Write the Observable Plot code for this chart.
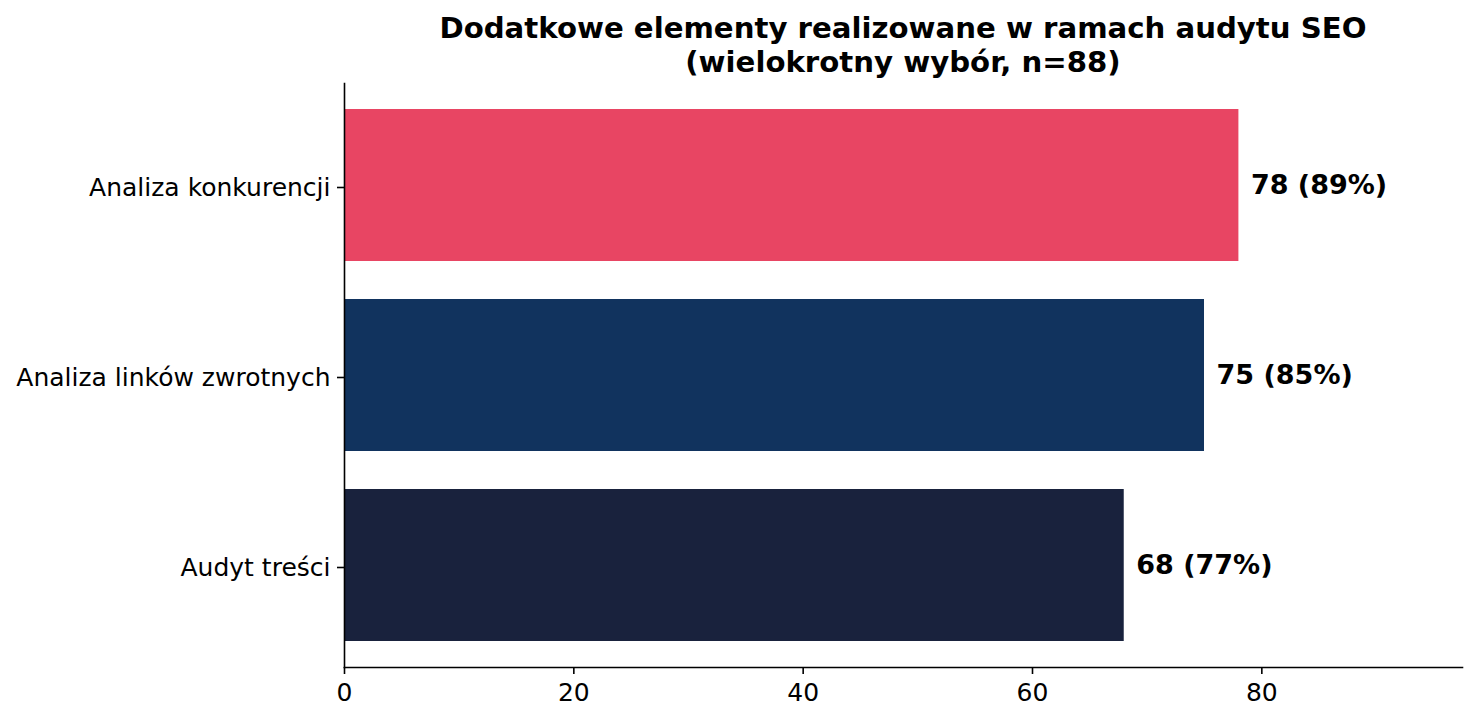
<!DOCTYPE html>
<html>
<head>
<meta charset="utf-8">
<script src="https://cdn.jsdelivr.net/npm/d3@7"></script>
<script src="https://cdn.jsdelivr.net/npm/@observablehq/plot@0.6"></script>
<style>
  html, body { margin: 0; padding: 0; background: #fff; }
  #title {
    box-sizing: border-box;
    width: 1477px;
    padding: 11px 15px 0 344px;
    height: 79px;
    font-family: "DejaVu Sans", sans-serif;
    font-weight: bold;
    font-size: 29.2px;
    line-height: 34px;
    text-align: center;
    color: #000;
  }
</style>
</head>
<body>
<div id="title">Dodatkowe elementy realizowane w ramach audytu SEO<br>(wielokrotny wybór, n=88)</div>
<div id="chart"></div>
<script>
const categories = ["Analiza konkurencji", "Analiza linków zwrotnych", "Audyt treści"];
const counts = [78, 75, 68];
const percents = [89, 85, 77];
const barColors = ["#E84563", "#11335E", "#19223D"];
const xTicks = [0, 20, 40, 60, 80];

const data = categories.map((c, i) => ({label: c, value: counts[i], pct: percents[i], color: barColors[i]}));

const chart = Plot.plot({
  width: 1477,
  height: 642,
  marginTop: 4,
  marginBottom: 54,
  marginLeft: 344,
  marginRight: 15,
  style: {fontFamily: "DejaVu Sans, sans-serif", color: "#000", background: "#fff"},
  x: {domain: [0, 97.5], ticks: xTicks, label: null},
  y: {domain: categories, paddingInner: 0.2, paddingOuter: 0.1368, label: null},
  marks: [
    Plot.barX(data, {x: "value", y: "label", fill: "color"}),
    Plot.text(data, {
      x: "value", y: "label",
      text: d => `${d.value} (${d.pct}%)`,
      textAnchor: "start", dx: 12,
      fontWeight: "bold", fontSize: 27, fill: "#000"
    }),
    Plot.frame({anchor: "left", stroke: "#000", strokeWidth: 1.6}),
    Plot.frame({anchor: "bottom", stroke: "#000", strokeWidth: 1.6}),
    Plot.axisX({ticks: xTicks, tickSize: 7, tickPadding: 9, fontSize: 25, label: null, stroke: "#000", strokeWidth: 1.6, tickFormat: d => String(d)}),
    Plot.axisY({tickSize: 7, tickPadding: 7, fontSize: 25, dy: 2, label: null, stroke: "#000", strokeWidth: 1.6})
  ]
});
document.getElementById("chart").appendChild(chart);
</script>
</body>
</html>
